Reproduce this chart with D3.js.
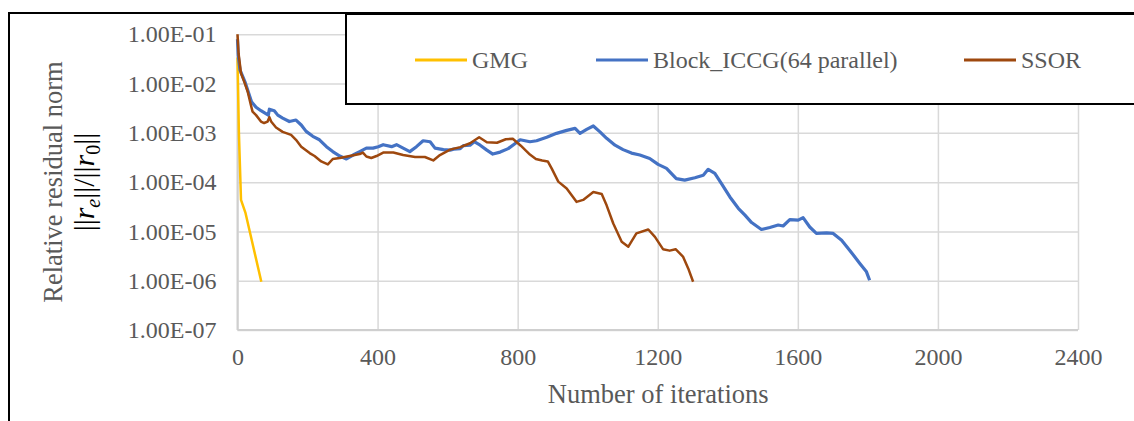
<!DOCTYPE html>
<html>
<head>
<meta charset="utf-8">
<script src="https://cdn.jsdelivr.net/npm/d3@7"></script>
<style>
  body { margin: 0; background: #fff; }
  svg { display: block; }
</style>
</head>
<body>
<div id="chart"></div>
<script>
// tick values / labels
const xTicks = [0, 400, 800, 1200, 1600, 2000, 2400];
const yTicks = [1e-7, 1e-6, 1e-5, 1e-4, 1e-3, 1e-2, 1e-1];
const yTickLabels = ["1.00E-07", "1.00E-06", "1.00E-05", "1.00E-04", "1.00E-03", "1.00E-02", "1.00E-01"];

const seriesNames = ["GMG", "Block_ICCG(64 parallel)", "SSOR"];
const seriesColors = ["#FFC000", "#4472C4", "#9E480E"];

// [iteration, log10(residual)]
const gmgLog = [
  [0, -1.47], [4, -3.0], [10, -4.36], [23, -4.63], [45, -5.31], [68, -6.02]
];

const iccgLog = [
  [0, -1.1], [2, -1.42], [7, -1.72], [21, -1.96], [29, -2.13], [40, -2.37],
  [53, -2.48], [67, -2.55], [81, -2.61], [88, -2.64], [91, -2.52], [105, -2.55],
  [115, -2.64], [129, -2.70], [148, -2.77], [167, -2.74], [182, -2.84], [196, -2.97],
  [215, -3.07], [234, -3.14], [254, -3.28], [272, -3.38], [292, -3.47], [311, -3.53],
  [330, -3.45], [349, -3.38], [368, -3.31], [387, -3.31], [402, -3.28], [416, -3.24],
  [440, -3.28], [454, -3.24], [473, -3.31], [492, -3.38], [511, -3.28], [530, -3.16],
  [550, -3.18], [564, -3.31], [588, -3.34], [607, -3.35], [617, -3.33], [636, -3.32],
  [645, -3.26], [664, -3.25], [676, -3.18], [693, -3.25], [712, -3.35], [729, -3.43],
  [750, -3.39], [773, -3.32], [792, -3.22], [807, -3.14], [835, -3.18], [854, -3.16],
  [883, -3.09], [911, -3.01], [940, -2.95], [964, -2.91], [978, -3.01], [997, -2.93],
  [1016, -2.86], [1035, -2.98], [1054, -3.11], [1078, -3.25], [1101, -3.34], [1125, -3.41],
  [1149, -3.45], [1177, -3.52], [1201, -3.64], [1225, -3.72], [1253, -3.93], [1277, -3.96],
  [1306, -3.91], [1330, -3.86], [1344, -3.74], [1363, -3.82], [1382, -4.03], [1406, -4.30],
  [1430, -4.53], [1449, -4.67], [1468, -4.82], [1496, -4.96], [1520, -4.92], [1544, -4.87],
  [1558, -4.89], [1577, -4.76], [1601, -4.77], [1615, -4.72], [1634, -4.91], [1653, -5.04],
  [1682, -5.03], [1701, -5.04], [1725, -5.18], [1749, -5.39], [1777, -5.65], [1796, -5.82],
  [1805, -5.99]
];

const ssorLog = [
  [0, -1.0], [3, -1.39], [10, -1.79], [19, -1.96], [29, -2.16], [38, -2.43],
  [43, -2.57], [53, -2.64], [67, -2.77], [76, -2.80], [86, -2.77], [91, -2.68],
  [96, -2.77], [110, -2.89], [129, -2.98], [153, -3.04], [167, -3.14], [182, -3.28],
  [206, -3.41], [220, -3.47], [239, -3.58], [258, -3.64], [272, -3.53], [292, -3.51],
  [320, -3.47], [349, -3.43], [358, -3.40], [368, -3.48], [382, -3.51], [397, -3.47],
  [416, -3.40], [445, -3.40], [473, -3.45], [507, -3.49], [535, -3.49], [559, -3.56],
  [578, -3.45], [607, -3.34], [636, -3.29], [664, -3.21], [690, -3.09], [712, -3.19],
  [741, -3.20], [766, -3.13], [786, -3.12], [809, -3.26], [835, -3.44], [852, -3.53],
  [870, -3.56], [886, -3.58], [897, -3.72], [916, -3.99], [940, -4.13], [968, -4.40],
  [987, -4.36], [1016, -4.20], [1040, -4.24], [1054, -4.47], [1073, -4.84], [1097, -5.21],
  [1116, -5.31], [1139, -5.04], [1173, -4.96], [1192, -5.11], [1215, -5.36], [1234, -5.39],
  [1251, -5.36], [1272, -5.51], [1287, -5.75], [1301, -6.02]
];

const series = [gmgLog, iccgLog, ssorLog].map(function (pts, i) {
  return {
    name: seriesNames[i],
    color: seriesColors[i],
    values: pts.map((p) => ({ it: p[0], r: Math.pow(10, p[1]) })),
  };
});

const width = 1134, height = 421;
const plot = { left: 237.5, right: 1078, top: 34.3, bottom: 330 };
const textColor = "#595959";
const font = "'Liberation Serif', 'Times New Roman', serif";

const svg = d3.select("#chart").append("svg")
  .attr("width", width)
  .attr("height", height)
  .style("font-family", font);

const x = d3.scaleLinear().domain([0, 2400]).range([plot.left, plot.right]);
const y = d3.scaleLog().domain([1e-7, 1e-1]).range([plot.bottom, plot.top]);

// outer chart frame (runs off the right / bottom edge)
svg.append("rect")
  .attr("x", 9).attr("y", 13)
  .attr("width", 1140).attr("height", 430)
  .attr("fill", "none")
  .attr("stroke", "#000")
  .attr("stroke-width", 2);

// horizontal gridlines + y labels
const yAxis = svg.append("g")
  .attr("transform", "translate(" + plot.left + ",0)")
  .call(d3.axisLeft(y)
    .tickValues(yTicks)
    .tickSize(-(plot.right - plot.left))
    .tickPadding(21)
    .tickFormat((d, i) => yTickLabels[i]));
yAxis.select(".domain").remove();
yAxis.selectAll(".tick line").attr("stroke", "#d9d9d9").attr("stroke-width", 1.5);
yAxis.selectAll(".tick text")
  .attr("fill", textColor)
  .style("font-size", "24px")
  .style("font-family", font);

// vertical gridlines + x labels
const xAxis = svg.append("g")
  .attr("transform", "translate(0," + plot.bottom + ")")
  .call(d3.axisBottom(x)
    .tickValues(xTicks)
    .tickSize(-(plot.bottom - plot.top))
    .tickPadding(18)
    .tickFormat(d3.format("d")));
xAxis.select(".domain").remove();
xAxis.selectAll(".tick line").attr("stroke", "#d9d9d9").attr("stroke-width", 1.5);
xAxis.selectAll(".tick text")
  .attr("fill", textColor)
  .style("font-size", "24px")
  .style("font-family", font);

// axis lines
svg.append("line")
  .attr("x1", plot.left).attr("x2", plot.left)
  .attr("y1", plot.top).attr("y2", plot.bottom)
  .attr("stroke", "#cfcfcf").attr("stroke-width", 2);
svg.append("line")
  .attr("x1", plot.left).attr("x2", plot.right)
  .attr("y1", plot.bottom).attr("y2", plot.bottom)
  .attr("stroke", "#cfcfcf").attr("stroke-width", 2);

// series lines
const line = d3.line()
  .x((d) => x(d.it))
  .y((d) => y(d.r));

svg.append("g")
  .selectAll("path")
  .data(series)
  .enter()
  .append("path")
  .attr("d", (d) => line(d.values))
  .attr("fill", "none")
  .attr("stroke", (d) => d.color)
  .attr("stroke-width", (d, i) => (i === 1 ? 3.2 : 2.5))
  .attr("stroke-linejoin", "round");

// axis titles
svg.append("text")
  .attr("x", (plot.left + plot.right) / 2 + 0.5)
  .attr("y", 403)
  .attr("text-anchor", "middle")
  .attr("fill", textColor)
  .style("font-size", "26.5px")
  .text("Number of iterations");

svg.append("text")
  .attr("transform", "translate(62,182) rotate(-90)")
  .attr("text-anchor", "middle")
  .attr("fill", textColor)
  .style("font-size", "26.5px")
  .text("Relative residual norm");

const formula = svg.append("text")
  .attr("transform", "translate(94,182) rotate(-90)")
  .attr("text-anchor", "middle")
  .attr("fill", "#000")
  .style("font-size", "30px");
formula.append("tspan").text("||");
formula.append("tspan").style("font-style", "italic").text("r");
formula.append("tspan").attr("dy", 6).style("font-size", "20px").style("font-style", "italic").text("e");
formula.append("tspan").attr("dy", -6).text("||/||");
formula.append("tspan").style("font-style", "italic").text("r");
formula.append("tspan").attr("dy", 6).style("font-size", "20px").text("0");
formula.append("tspan").attr("dy", -6).text("||");

// legend box
svg.append("rect")
  .attr("x", 346).attr("y", 14)
  .attr("width", 820).attr("height", 90)
  .attr("fill", "#fff")
  .attr("stroke", "#000")
  .attr("stroke-width", 2);

const legendX = [415, 596, 964];
const legend = svg.append("g")
  .selectAll("g")
  .data(series)
  .enter()
  .append("g")
  .attr("transform", (d, i) => "translate(" + legendX[i] + ",60)");

legend.append("line")
  .attr("x1", 0).attr("x2", 52)
  .attr("stroke", (d) => d.color)
  .attr("stroke-width", 3);

legend.append("text")
  .attr("x", 57)
  .attr("y", 8)
  .attr("fill", textColor)
  .style("font-size", "24px")
  .text((d) => d.name);
</script>
</body>
</html>
